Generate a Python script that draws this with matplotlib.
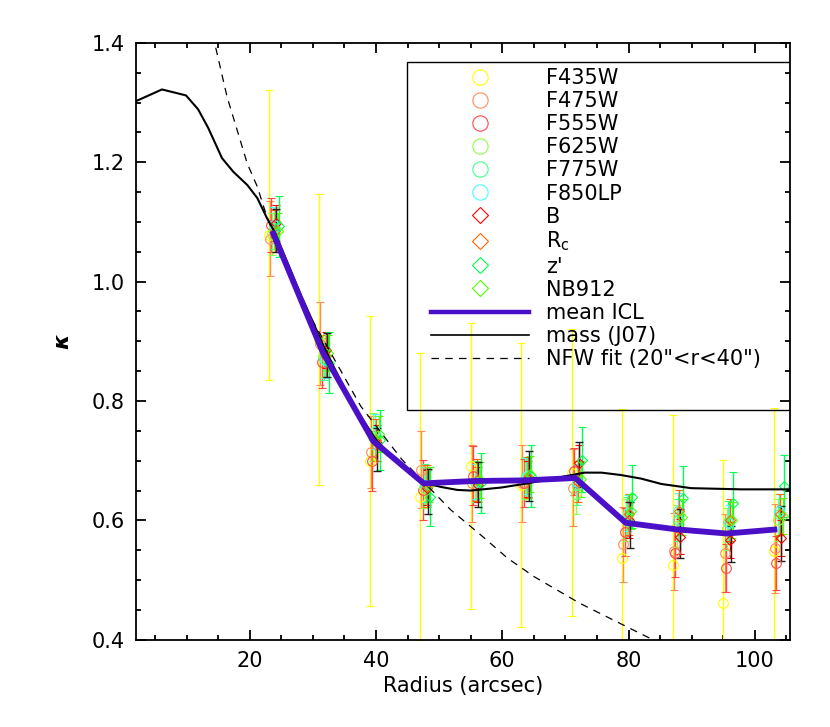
"""Convergence profile: ICL kappa per filter vs lensing mass."""
import matplotlib
matplotlib.use('Agg')
import matplotlib.pyplot as plt
from matplotlib.lines import Line2D
from matplotlib.patches import Rectangle
from matplotlib.ticker import MultipleLocator, FormatStrFormatter

radius = [24, 32, 40, 48, 56, 64, 72, 80, 88, 96, 104]

# kappa from the ICL in each filter, with errors
f435w = [1.078, 0.903, 0.700, 0.640, 0.691, 0.660, 0.680, 0.537, 0.526, 0.462, 0.548]
f435w_err = [0.243, 0.244, 0.243, 0.240, 0.239, 0.238, 0.240, 0.250, 0.250, 0.240, 0.240]
f475w = [1.072, 0.896, 0.715, 0.685, 0.662, 0.662, 0.655, 0.560, 0.548, 0.545, 0.553]
f475w_err = [0.063, 0.070, 0.060, 0.065, 0.065, 0.065, 0.065, 0.063, 0.065, 0.065, 0.075]
f555w = [1.095, 0.866, 0.700, 0.651, 0.675, 0.663, 0.682, 0.581, 0.545, 0.520, 0.529]
f555w_err = [0.045, 0.045, 0.050, 0.050, 0.050, 0.040, 0.040, 0.040, 0.040, 0.040, 0.045]
f625w = [1.080, 0.875, 0.740, 0.655, 0.665, 0.670, 0.645, 0.600, 0.590, 0.585, 0.600]
f625w_err = [0.035, 0.035, 0.040, 0.035, 0.035, 0.035, 0.035, 0.035, 0.035, 0.035, 0.035]
f775w = [1.090, 0.870, 0.735, 0.660, 0.665, 0.672, 0.660, 0.605, 0.600, 0.598, 0.610]
f775w_err = [0.035, 0.035, 0.035, 0.035, 0.035, 0.035, 0.035, 0.035, 0.035, 0.035, 0.035]
f850lp = [1.095, 0.869, 0.749, 0.660, 0.665, 0.675, 0.665, 0.612, 0.616, 0.596, 0.615]
f850lp_err = [0.030, 0.030, 0.030, 0.030, 0.030, 0.030, 0.030, 0.030, 0.030, 0.030, 0.030]
b_band = [1.098, 0.885, 0.730, 0.655, 0.660, 0.670, 0.696, 0.600, 0.573, 0.567, 0.571]
b_band_err = [0.030, 0.030, 0.030, 0.030, 0.030, 0.030, 0.030, 0.030, 0.030, 0.030, 0.030]
rc_band = [1.085, 0.875, 0.735, 0.658, 0.668, 0.672, 0.665, 0.610, 0.616, 0.600, 0.610]
rc_band_err = [0.035, 0.035, 0.035, 0.035, 0.035, 0.035, 0.035, 0.035, 0.035, 0.035, 0.035]
z_band = [1.093, 0.864, 0.735, 0.640, 0.663, 0.675, 0.702, 0.640, 0.638, 0.629, 0.657]
z_band_err = [0.051, 0.051, 0.050, 0.050, 0.050, 0.052, 0.055, 0.053, 0.053, 0.052, 0.052]
nb912 = [1.085, 0.880, 0.745, 0.660, 0.668, 0.678, 0.670, 0.615, 0.606, 0.601, 0.607]
nb912_err = [0.030, 0.030, 0.030, 0.030, 0.030, 0.030, 0.030, 0.030, 0.030, 0.030, 0.030]

# lensing mass errors at the same radii (black bars)
mass_pts = [1.086, 0.877, 0.718, 0.648, 0.660, 0.675, 0.694, 0.592, 0.578, 0.560, 0.578]
mass_pts_err = [0.036, 0.037, 0.036, 0.038, 0.037, 0.042, 0.038, 0.038, 0.041, 0.030, 0.046]

icl_mean = [1.085, 0.882, 0.733, 0.662, 0.666, 0.667, 0.671, 0.596, 0.585, 0.578, 0.585]

# mass profile (J07)
mass_r = [2.1, 6.1, 9.9, 11.8, 13.4, 15.6, 17.4, 19.6, 21.2, 22.7, 24.0, 28.0, 32.0,
          36.0, 40.0, 44.0, 48.0, 50.3, 52.9, 55.0, 59.8, 64.0, 69.0, 73.0, 75.7,
          78.8, 82.0, 85.2, 89.9, 97.9, 106.0]
mass_k = [1.303, 1.322, 1.312, 1.289, 1.258, 1.207, 1.184, 1.162, 1.140, 1.107, 1.082,
          0.980, 0.885, 0.800, 0.735, 0.690, 0.662, 0.656, 0.651, 0.650, 0.655, 0.662,
          0.672, 0.680, 0.680, 0.676, 0.670, 0.661, 0.654, 0.652, 0.652]

# NFW fit over 20"<r<40"
nfw_r = [13.5, 14.5, 16.4, 18.0, 19.6, 21.2, 22.7, 26.2, 27.8, 37.6, 44.1, 51.8,
         57.1, 60.8, 65.0, 72.3, 82.9, 84.5]
nfw_k = [1.46, 1.397, 1.310, 1.254, 1.198, 1.159, 1.109, 1.014, 0.975, 0.791, 0.702,
         0.618, 0.571, 0.537, 0.506, 0.461, 0.405, 0.397]

bands = [
    ('F435W', f435w, f435w_err, '#FFFF00', 'o', -1.0),
    ('F475W', f475w, f475w_err, '#FF8C5A', 'o', -0.8),
    ('F555W', f555w, f555w_err, '#FF4848', 'o', -0.6),
    ('F625W', f625w, f625w_err, '#8CFF46', 'o', -0.4),
    ('F775W', f775w, f775w_err, '#46FF8C', 'o', -0.2),
    ('F850LP', f850lp, f850lp_err, '#46FFFF', 'o', -0.1),
    ('B', b_band, b_band_err, '#FF0000', 'D', 0.1),
    (r'R$_{\rm c}$', rc_band, rc_band_err, '#FF6400', 'D', 0.0),
    ("z'", z_band, z_band_err, '#00FF50', 'D', 0.6),
    ('NB912', nb912, nb912_err, '#50FF00', 'D', 0.4),
]

plt.rcParams['font.family'] = 'DejaVu Sans'
fig = plt.figure(figsize=(8.3, 7.27), dpi=100)
ax = fig.add_axes([0.164, 0.12, 0.788, 0.821])

for label, vals, errs, color, marker, dx in bands:
    ax.errorbar([r + dx for r in radius], vals, yerr=errs, fmt=marker, color=color,
                ms=7 if marker == 'o' else 5.5, mfc='none', mew=0.8,
                elinewidth=1.0, capsize=3.2, capthick=1.0, zorder=2)

ax.errorbar([r + 0.2 for r in radius], mass_pts, yerr=mass_pts_err, fmt='none',
            ecolor='#202020', elinewidth=1.0, capsize=3.2, capthick=1.0, zorder=2)

ax.plot([r - 0.45 for r in radius], icl_mean, color='#4B0FC8', lw=4.2, zorder=4,
        solid_capstyle='butt')
ax.plot(mass_r, mass_k, color='black', lw=1.5, zorder=3)
ax.plot(nfw_r, nfw_k, color='black', lw=0.9, ls=(0, (6, 5)), zorder=3)

ax.set_xlim(2, 105.6)
ax.set_ylim(0.4, 1.4)
ax.xaxis.set_major_locator(MultipleLocator(20))
ax.xaxis.set_minor_locator(MultipleLocator(5))
ax.yaxis.set_major_locator(MultipleLocator(0.2))
ax.yaxis.set_minor_locator(MultipleLocator(0.05))
ax.yaxis.set_major_formatter(FormatStrFormatter('%.1f'))
ax.tick_params(which='both', direction='in', top=True, right=True, labelsize=15,
               width=1.3, pad=8)
ax.tick_params(which='major', length=7.5)
ax.tick_params(which='minor', length=3.8)
for s in ax.spines.values():
    s.set_linewidth(1.3)

ax.set_xlabel('Radius (arcsec)', fontsize=15)
ax.set_ylabel('κ', fontsize=16, fontweight='bold', fontstyle='italic', labelpad=14)

# legend: frame drawn separately so it sits flush against the right axis
ax.add_patch(Rectangle((0.414, 0.385), 0.586, 0.583, transform=ax.transAxes,
                       fill=False, edgecolor='black', lw=1.0, zorder=5))
handles = []
for label, vals, errs, color, marker, dx in bands:
    handles.append(Line2D([], [], ls='none', marker=marker, mfc='none', mec=color,
                          mew=0.8, ms=11 if marker == 'o' else 8, label=label))
handles.append(Line2D([], [], color='#4B0FC8', lw=3.2, label='mean ICL'))
handles.append(Line2D([], [], color='black', lw=1.2, label='mass (J07)'))
handles.append(Line2D([], [], color='black', lw=0.9, ls=(0, (6, 5)),
                      label='NFW fit (20"<r<40")'))
ax.legend(handles=handles, loc='upper left', bbox_to_anchor=(0.451, 0.958),
          frameon=False, fontsize=15, handlelength=4.7, handletextpad=0.8,
          labelspacing=0.15, borderpad=0, borderaxespad=0)

plt.savefig('out.png', dpi=100)
plt.close(fig)
